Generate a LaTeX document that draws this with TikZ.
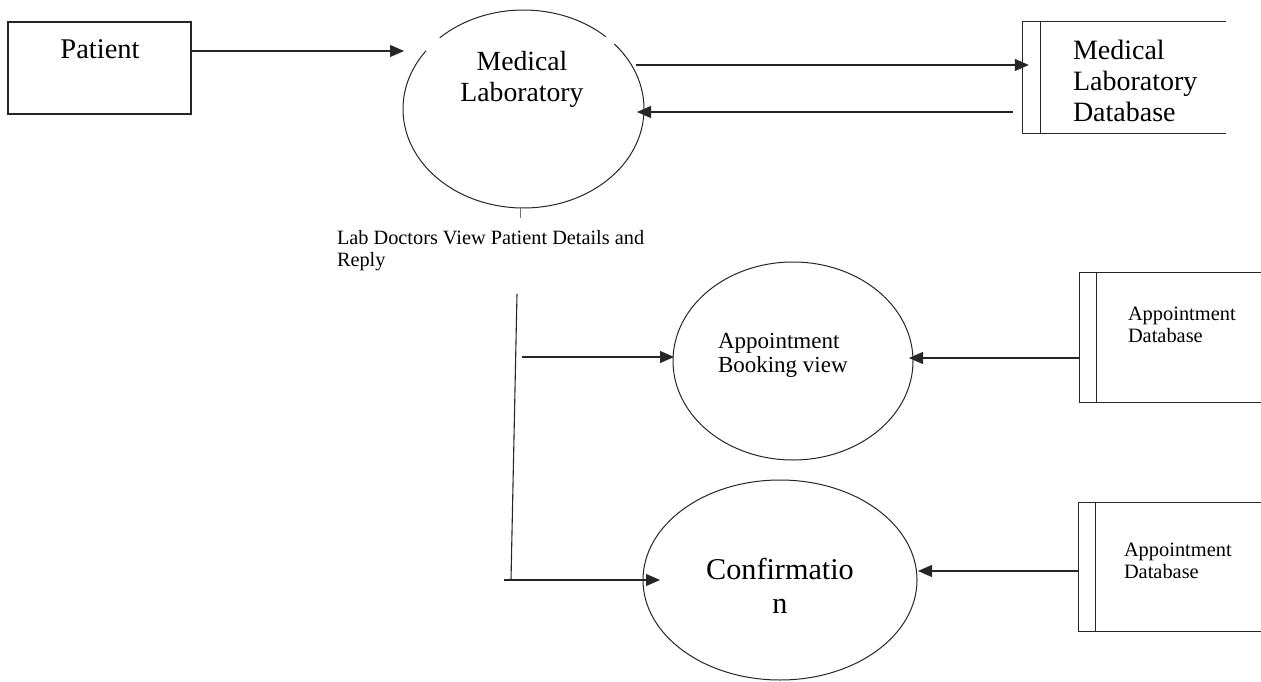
\documentclass[tikz,border=0pt]{standalone}
\usepackage{fontspec}
\setmainfont{Liberation Serif}
\usetikzlibrary{shapes.geometric,arrows.meta}
\begin{document}
\begin{tikzpicture}[x=1pt,y=-1pt,
  ln/.style={line width=1.1pt,draw=black!85},
  arr/.style={ln,-{Triangle[length=14pt,width=12pt]}},
  lbl/.style={inner sep=0pt,outer sep=0pt},
  proc/.style={ellipse,draw=black!85,line width=1pt,inner sep=0pt},
  hollow/.style={ellipse,draw=none,inner sep=0pt},
  box/.style={rectangle,draw=black!85,line width=1.1pt,inner sep=0pt},
  store/.style={rectangle,draw=none,inner sep=0pt}]
\useasboundingbox (0,0) rectangle (1261,682);
\fill[white] (0,0) rectangle (1261,682);

% Patient
\node[box,minimum width=183pt,minimum height=92pt] (patient) at (99.5,68) {};
\node[lbl,font=\fontsize{28.5}{33}\selectfont] (patientlbl) at (100,49) {Patient};

% Medical Laboratory process (with small gaps in the outline)
\node[hollow,minimum width=241pt,minimum height=198pt] (ml) at (523.5,109) {};
\draw[line width=1pt,draw=black!85] (ml.center) ++(-134:120.5 and 99) arc[start angle=-134,end angle=-47,x radius=120.5,y radius=99];
\draw[line width=1pt,draw=black!85] (ml.center) ++(-41:120.5 and 99) arc[start angle=-41,end angle=216,x radius=120.5,y radius=99];
\node[lbl,align=center,font=\fontsize{27.7}{31}\selectfont] (mllbl) at (522,79) {Medical\\Laboratory};

% Medical Laboratory Database store
\node[store,minimum width=203pt,minimum height=111pt] (mldb) at (1124.5,77.5) {};
\draw[ln] (mldb.north east) -- (mldb.north west) -- (mldb.south west) -- (mldb.south east);
\draw[ln] ([xshift=18pt]mldb.north west) -- ([xshift=18pt]mldb.south west);
\node[lbl,align=left,anchor=west,font=\fontsize{28}{31}\selectfont] (mldblbl) at (1073,81) {Medical\\Laboratory\\Database};

% Appointment Booking view
\node[proc,minimum width=240pt,minimum height=198pt] (abv) at (793,361) {};
\node[lbl,align=left,anchor=west,font=\fontsize{23}{24}\selectfont] (abvlbl) at (718,355) {Appointment\\Booking view};

% Confirmation
\node[proc,minimum width=274pt,minimum height=200pt] (conf) at (780,580) {};
\node[lbl,align=center,font=\fontsize{30.2}{34}\selectfont] (conflbl) at (780,586) {Confirmatio\\n};

% Appointment Database stores
\node[store,minimum width=181pt,minimum height=129pt] (adb1) at (1170.5,337.5) {};
\draw[ln] (adb1.north east) -- (adb1.north west) -- (adb1.south west) -- (adb1.south east);
\draw[ln] ([xshift=17pt]adb1.north west) -- ([xshift=17pt]adb1.south west);
\node[lbl,align=left,anchor=west,font=\fontsize{20.4}{22}\selectfont] (adb1lbl) at (1128,325) {Appointment\\Database};

\node[store,minimum width=182pt,minimum height=128pt] (adb2) at (1170,567) {};
\draw[ln] (adb2.north east) -- (adb2.north west) -- (adb2.south west) -- (adb2.south east);
\draw[ln] ([xshift=17pt]adb2.north west) -- ([xshift=17pt]adb2.south west);
\node[lbl,align=left,anchor=west,font=\fontsize{20.4}{22}\selectfont] (adb2lbl) at (1124,561) {Appointment\\Database};

% Flow label
\node[lbl,align=left,anchor=west,font=\fontsize{20.3}{22}\selectfont] (flowlbl) at (337,251) {Lab Doctors View Patient Details and\\Reply};

% free-end coordinates
\coordinate (mlin) at (404,51);
\coordinate (mlout) at (636,65);
\coordinate (mlback) at (637,112);
\coordinate (stubtop) at (520,208);
\coordinate (stubbot) at (520,218);
\coordinate (vtop) at (517,294);
\coordinate (vbot) at (511,580);
\coordinate (hstart) at (504,580);
\coordinate (confin) at (660,580);
\coordinate (abvstart) at (522,357);
\coordinate (abvin) at (674,357);
\coordinate (abvright) at (909,358);
\coordinate (confright) at (918,571);

% connectors
\draw[arr] (patient.east |- mlin) -- (mlin);
\draw[arr] (mlout) -- ([xshift=6pt]mldb.west |- mlout);
\draw[arr] ([xshift=-10pt]mldb.west |- mlback) -- (mlback);
\draw[line width=1pt,draw=black!55] (stubtop) -- (stubbot);
\draw[ln] (vtop) -- (vbot);
\draw[arr] (hstart) -- (confin);
\draw[arr] (abvstart) -- (abvin);
\draw[arr] (adb1.west |- abvright) -- (abvright);
\draw[arr] (adb2.west |- confright) -- (confright);
\end{tikzpicture}
\end{document}
